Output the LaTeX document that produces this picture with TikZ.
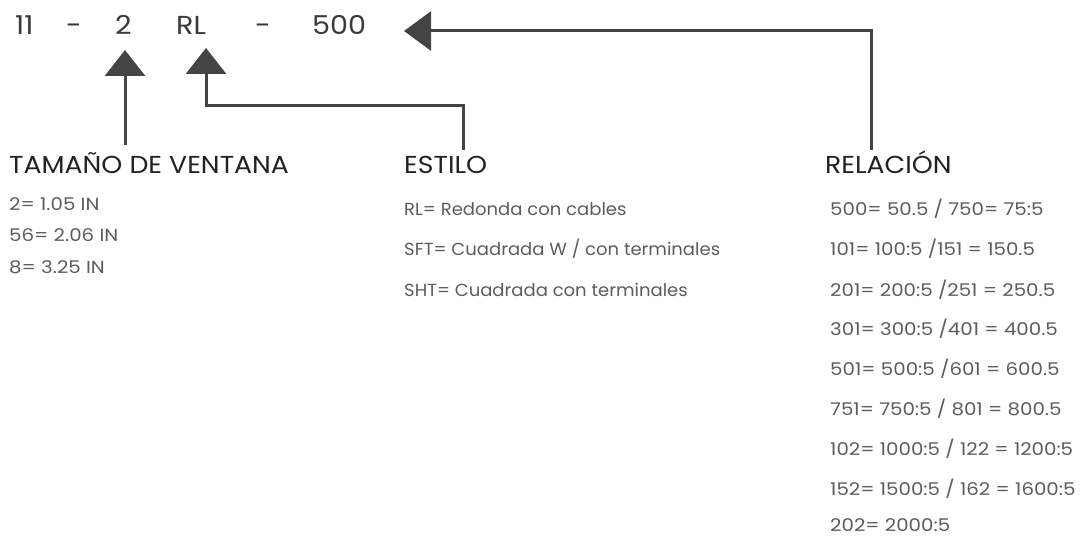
\documentclass[tikz,border=0pt]{standalone}
\usepackage{fontspec}
\setmainfont{Poppins}
\newfontfamily\codefont[FakeStretch=1.1]{Poppins}
\newfontfamily\ttlfont[FakeStretch=1.09]{Poppins}
\newfontfamily\numfont[FakeStretch=1.13]{Poppins}
\newfontfamily\txtfont[FakeStretch=1.03]{Poppins}
\usetikzlibrary{arrows.meta}
\definecolor{codec}{HTML}{3A3A3A}
\definecolor{titlec}{HTML}{222222}
\definecolor{itemc}{HTML}{5C5C5C}
\definecolor{arrc}{HTML}{444444}
\tikzset{
  code/.style={inner sep=0pt, anchor=base west, text=codec, font=\codefont\fontsize{26}{30}\selectfont},
  ttl/.style={inner sep=0pt, anchor=base west, text=titlec, font=\ttlfont\fontsize{24.5}{28}\selectfont},
  item/.style={inner sep=0pt, anchor=base west, text=itemc, font=\txtfont\fontsize{17.5}{21}\selectfont},
  nitem/.style={inner sep=0pt, anchor=base west, text=itemc, font=\numfont\fontsize{17.5}{21}\selectfont},
  conn/.style={draw=arrc, line width=3pt},
  uptip/.style={conn, -{Triangle[length=26pt,width=40pt]}},
  lefttip/.style={conn, -{Triangle[length=27pt,width=39pt]}},
}
\begin{document}
\begin{tikzpicture}[x=1pt,y=-1pt]
\useasboundingbox (0,0) rectangle (1081,537);
% code line
\node[code] (c11) at (15,35) {11};
\node[code] (d1) at (66,35) {-};
\node[code] (c2) at (115,35) {2};
\node[code] (crl) at (176,35) {RL};
\node[code] (d2) at (255,35) {-};
\node[code] (c500) at (312,35) {500};
% titles
\node[ttl] (tam) at (9,174) {TAMAÑO DE VENTANA};
\node[ttl] (est) at (404,174) {ESTILO};
\node[ttl] (rel) at (825,174) {RELACIÓN};
% items tamaño
\node[nitem] (t1) at (9,211) {2= 1.05 IN};
\node[nitem] (t2) at (9,242) {56= 2.06 IN};
\node[nitem] (t3) at (9,273) {8= 3.25 IN};
% items estilo
\node[item] (e1) at (404,216) {RL= Redonda con cables};
\node[item] (e2) at (404,256) {SFT= Cuadrada W / con terminales};
\node[item] (e3) at (404,296) {SHT= Cuadrada con terminales};
% items relacion
\node[nitem] (r1) at (830,216) {500= 50.5 / 750= 75:5};
\node[nitem] (r2) at (830,256) {101= 100:5 /151 = 150.5};
\node[nitem] (r3) at (830,296) {201= 200:5 /251 = 250.5};
\node[nitem] (r4) at (830,335) {301= 300:5 /401 = 400.5};
\node[nitem] (r5) at (830,375) {501= 500:5 /601 = 600.5};
\node[nitem] (r6) at (830,415) {751= 750:5 / 801 = 800.5};
\node[nitem] (r7) at (830,455) {102= 1000:5 / 122 = 1200:5};
\node[nitem] (r8) at (830,495) {152= 1500:5 / 162 = 1600:5};
\node[nitem] (r9) at (830,531) {202= 2000:5};
% connector anchors
\coordinate (a1s) at (125,145);
\coordinate (a1t) at (125,50);
\coordinate (a2s) at (463,150);
\coordinate (a2b) at (463,106);
\coordinate (a2t) at (206,48);
\coordinate (a3s) at (871,150);
\coordinate (a3t) at (404,31);
\draw[uptip] (a1s) -- (a1t);
\draw[uptip] (a2s) -- (a2b) -| (a2t);
\draw[lefttip] (a3s) |- (a3t);
\end{tikzpicture}
\end{document}
